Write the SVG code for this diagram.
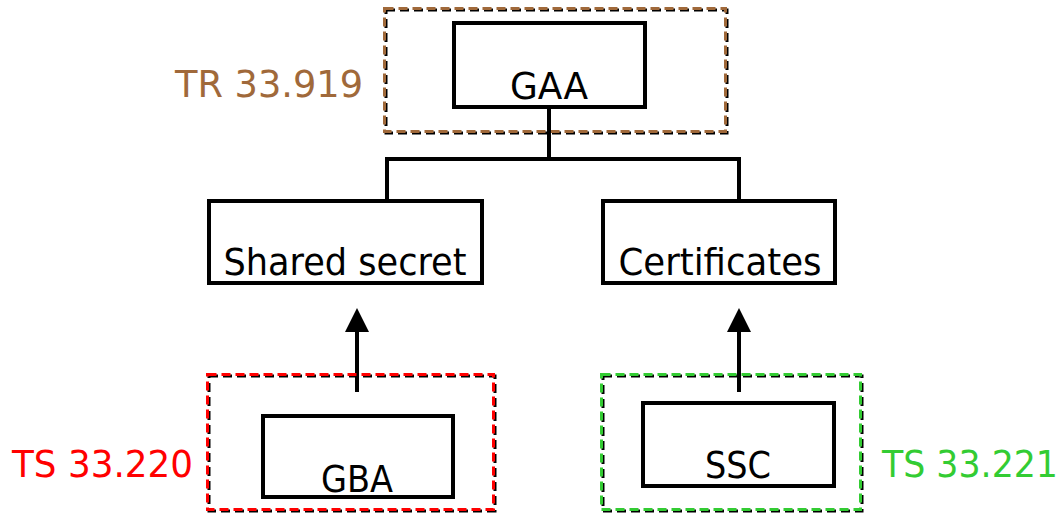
<svg xmlns="http://www.w3.org/2000/svg" width="1064" height="513" viewBox="0 0 1064 513">
<style>
.box{fill:#fff;stroke:#000;stroke-width:4}
.dk{fill:none;stroke:#000;stroke-width:3;stroke-dasharray:9 5}
.dc{fill:none;stroke-width:3;stroke-dasharray:9 5}
.lbl{font-family:"DejaVu Sans Condensed","DejaVu Sans",sans-serif;font-size:38px;fill:#000;text-anchor:middle}
.std{font-family:"DejaVu Sans Condensed","DejaVu Sans",sans-serif;font-size:38px}
.con{stroke:#000;stroke-width:4;fill:none}
</style>
<defs>
<marker id="ah" markerWidth="6" markerHeight="6" refX="5" refY="3" orient="auto" markerUnits="strokeWidth">
<path d="M0,0 L6,3 L0,6 Z" fill="#000"/>
</marker>
</defs>
<g id="tr-group">
<rect class="dk" x="386" y="10" width="341" height="123"/>
<rect class="dc" x="384.5" y="8.5" width="341" height="123" stroke="#A0693A"/>
<text class="std" x="175" y="97" fill="#A0693A" textLength="188" lengthAdjust="spacingAndGlyphs">TR 33.919</text>
</g>
<g id="gaa">
<rect class="box" x="454" y="23" width="191" height="84"/>
<text class="lbl" x="549" y="99" textLength="78" lengthAdjust="spacingAndGlyphs">GAA</text>
</g>
<g id="connectors">
<path class="con" d="M549,107 V159 M385,159 H741 M387,157 V201 M739,157 V201"/>
<path class="con" d="M357,392 V312" marker-end="url(#ah)"/>
<path class="con" d="M739,392 V312" marker-end="url(#ah)"/>
</g>
<g id="shared-secret">
<rect class="box" x="209" y="201" width="273" height="82"/>
<text class="lbl" x="345" y="275" textLength="243" lengthAdjust="spacingAndGlyphs">Shared secret</text>
</g>
<g id="certificates">
<rect class="box" x="603" y="201" width="232" height="82"/>
<text class="lbl" x="720" y="275" textLength="203" lengthAdjust="spacingAndGlyphs">Certificates</text>
</g>
<g id="gba-group">
<rect class="dk" x="209" y="376" width="286" height="135"/>
<rect class="dc" x="207.5" y="374.5" width="286" height="135" stroke="#FF0000"/>
<text class="std" x="12" y="477" fill="#FF0000" textLength="181" lengthAdjust="spacingAndGlyphs">TS 33.220</text>
</g>
<g id="gba">
<rect class="box" x="263" y="416" width="190" height="81"/>
<text class="lbl" x="357" y="492" textLength="72" lengthAdjust="spacingAndGlyphs">GBA</text>
</g>
<g id="ssc-group">
<rect class="dk" x="603" y="376" width="259" height="135"/>
<rect class="dc" x="601.5" y="374.5" width="259" height="135" stroke="#33CC33"/>
<text class="std" x="882" y="477" fill="#33CC33" textLength="176" lengthAdjust="spacingAndGlyphs">TS 33.221</text>
</g>
<g id="ssc">
<rect class="box" x="643" y="403" width="191" height="83"/>
<text class="lbl" x="738" y="478" textLength="66" lengthAdjust="spacingAndGlyphs">SSC</text>
</g>
</svg>
